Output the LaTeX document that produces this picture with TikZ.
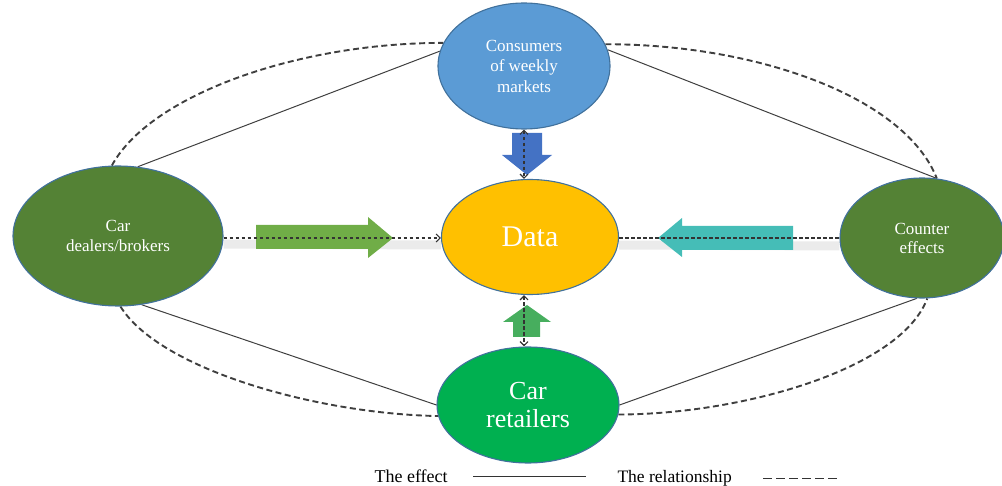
\documentclass[tikz,border=0pt]{standalone}
\usepackage{fontspec}
\setmainfont{Liberation Serif}
\usetikzlibrary{arrows.meta,shapes.geometric,backgrounds}

\definecolor{skyblue}{HTML}{5B9BD5}
\definecolor{ringblue}{HTML}{41719C}
\definecolor{datagold}{HTML}{FFC000}
\definecolor{olivegreen}{HTML}{548235}
\definecolor{brightgreen}{HTML}{00B050}
\definecolor{arrowblue}{HTML}{4472C4}
\definecolor{arrowgreen}{HTML}{70AD47}
\definecolor{arrowteal}{HTML}{45BDB7}
\definecolor{arrowmint}{HTML}{47AE5E}
\definecolor{linegray}{HTML}{3F3F3F}

\begin{document}
\begin{tikzpicture}[x=1pt,y=-1pt,
  bubble/.style={ellipse, draw=ringblue, line width=1.1pt, inner sep=0pt,
    text=white, align=center},
  effect/.style={draw=linegray, line width=1pt},
  relation/.style={draw=linegray, line width=1.9pt, dash pattern=on 6pt off 3.5pt},
  flowlink/.style={draw=black!80, line width=1.2pt, dash pattern=on 3.5pt off 2.5pt},
  barbtip/.tip={Straight Barb[length=4pt,width=8pt]},
  shade/.style={draw=black!8, line width=9pt},
  legendtext/.style={anchor=base west, text=black}
]
\useasboundingbox (0,0) rectangle (1002,486);

% ---- bubbles ----
\node[bubble, fill=skyblue, minimum width=172, minimum height=126,
  font=\fontsize{17}{20.5}\selectfont] (consumers) at (524,66)
  {Consumers\\of weekly\\markets};
\node[bubble, fill=datagold, minimum width=177, minimum height=115,
  font=\fontsize{30}{32}\selectfont] (data) at (530,237) {Data};
\node[bubble, fill=olivegreen, minimum width=210, minimum height=140,
  font=\fontsize{17}{20}\selectfont] (dealers) at (118,236)
  {Car\\dealers/brokers};
\node[bubble, fill=olivegreen, minimum width=164, minimum height=120,
  font=\fontsize{17}{19}\selectfont] (counter) at (922,238)
  {Counter\\effects};
\node[bubble, fill=brightgreen, minimum width=182, minimum height=116,
  font=\fontsize{26}{28}\selectfont] (retailers) at (528,405)
  {Car\\retailers};

% ---- effects (solid) and relationships (dashed) around the ring ----
\begin{scope}[on background layer]
  \draw[effect] (dealers.74) -- (consumers.170);
  \draw[effect] (consumers.11) -- (counter.76);
  \draw[effect] (dealers.-71) -- (retailers.180);
  \draw[effect] (retailers.0) -- (counter.-95);

  \draw[relation] (dealers.95) .. controls +(38,-70) and +(-147,0) .. (consumers.164);
  \draw[relation] (consumers.15) .. controls +(153,0) and +(-32,-81) .. (counter.76);
  \draw[relation] (dealers.-88) .. controls +(40,64) and +(-118,-2) .. (retailers.187);
  \draw[relation] (retailers.-6) .. controls +(120,0) and +(-27,72) .. (counter.-85);

  % soft shadow under the horizontal links
  \draw[shade] ([yshift=-8pt]dealers.east) -- ([yshift=-8pt]data.west);
  \draw[shade] ([yshift=-8pt]data.east) -- ([yshift=-8pt]counter.west);
\end{scope}

% ---- block arrows pointing at the data ----
\fill[arrowgreen] (256,225) -- (368,225) -- (368,217) -- (393,238)
  -- (368,258) -- (368,249) -- (256,249) -- cycle;
\fill[arrowteal] (793,226) -- (682,226) -- (682,218) -- (658,238)
  -- (682,257) -- (682,250) -- (793,250) -- cycle;
\fill[arrowblue] (512,133) -- (542,133) -- (542,155) -- (552,155)
  -- (527,175) -- (502,155) -- (512,155) -- cycle;
\fill[arrowmint] (513,337) -- (540,337) -- (540,322) -- (551,322)
  -- (527,305) -- (503,322) -- (513,322) -- cycle;

% ---- dashed flow links ----
\draw[flowlink, -barbtip] (dealers.east |- 0,238) -- (data.west |- 0,238);
\draw[flowlink] (data.east |- 0,238) -- (counter.west |- 0,238);
\draw[flowlink, barbtip-barbtip] (consumers.south) -- (consumers.south |- data.north);
\draw[flowlink, barbtip-barbtip] (data.south -| consumers.south) -- (retailers.north -| consumers.south);

% ---- legend ----
\node[legendtext, font=\fontsize{18}{20}\selectfont] (effectkey) at (371,482) {The effect};
\node[legendtext, font=\fontsize{17.5}{20}\selectfont] (relationkey) at (614,482) {The relationship};
\coordinate (effectA) at (473,476);
\coordinate (effectB) at (586,476);
\coordinate (relationA) at (763,478);
\coordinate (relationB) at (840,478);
\draw[draw=black!80, line width=1pt] (effectA) -- (effectB);
\draw[draw=black!80, line width=1pt, dash pattern=on 9pt off 4pt] (relationA) -- (relationB);

\end{tikzpicture}
\end{document}
